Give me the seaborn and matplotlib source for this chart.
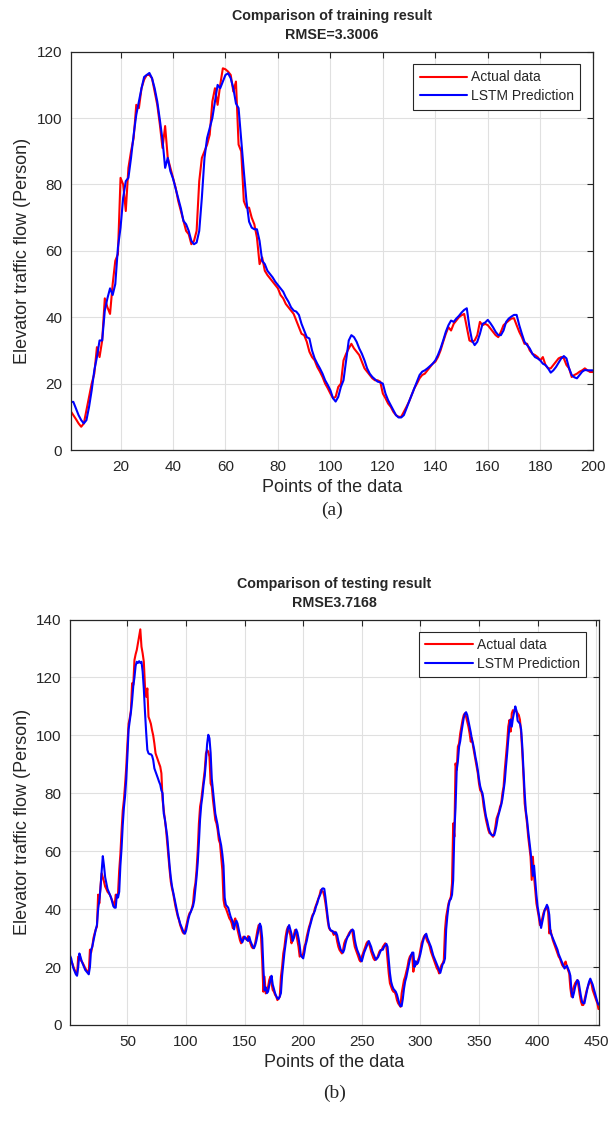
import numpy as np
import pandas as pd
import matplotlib
matplotlib.use("Agg")
import matplotlib.pyplot as plt
import seaborn as sns

# ---------------- data ----------------
train_actual = [
    11.7, 10.5, 9.3, 8, 7, 8, 12, 16, 20, 23,
    31, 28, 33, 45.7, 43, 41, 50, 57, 59, 82,
    80, 72, 85, 90, 94, 104, 103, 109, 111.6, 113,
    113, 112, 108, 104, 98, 91, 97.6, 88, 85, 82,
    79, 75, 72, 69, 66, 65, 62, 63, 66, 81,
    88, 90, 92, 95, 105, 109, 104, 110, 115, 114.7,
    114, 113, 108, 111, 92, 90, 75, 73, 73, 70,
    68, 64, 56, 58, 54, 52.7, 51.7, 50.7, 49.7, 48.7,
    46.7, 45.7, 44, 43, 42, 41, 39, 37, 35, 34.6,
    32.6, 29.6, 28, 27, 25, 23.6, 22, 20, 18.6, 17,
    15.6, 16, 19, 20, 27, 29, 30.6, 32, 30.6, 29.6,
    28.6, 26.6, 24.6, 23.6, 22.6, 21.6, 21, 21, 20.6, 17,
    15.6, 14, 13, 11.5, 10.5, 10, 10, 11.5, 13, 14.6,
    16.6, 18.6, 20, 21.6, 22.6, 23, 24, 25, 26, 26.6,
    28, 30, 32.6, 35, 37, 36, 38, 39, 40, 40.6,
    41, 37, 33, 32.6, 33, 34.6, 38.6, 37.6, 38, 37.6,
    36.6, 35.6, 34.6, 34, 35.6, 37.6, 38.3, 39, 39.6, 39.7,
    37.6, 35.6, 34, 32, 32, 30, 29, 28.6, 28, 27,
    28, 25.6, 24.6, 24.6, 25.6, 26.6, 27.6, 28, 27.6, 25.6,
    24.6, 22, 22.6, 23, 23.6, 24, 24.6, 24, 23.5, 23.5,
]
train_pred = [
    14.5, 14.5, 12.5, 10.5, 9, 8, 9, 13, 18, 24,
    28, 33, 33, 42, 45.7, 48.7, 46.7, 50, 61, 67,
    76, 81, 82, 88, 95, 101, 105, 109, 112.4, 113,
    113.6, 112, 109, 105, 99.4, 93.4, 85, 88, 84, 81.8,
    78.8, 75.8, 72.8, 69, 68, 66, 63, 62, 62.5, 66,
    76, 88, 94, 97, 100, 105, 110, 109, 111, 113,
    113.5, 112, 109, 104.4, 103, 93.4, 84, 75, 68.8, 67,
    66.5, 66.5, 63, 57, 56, 54, 53, 52, 50.7, 49.7,
    48.7, 47.7, 46, 44.7, 43, 42, 41.7, 40.7, 38, 36,
    34, 33.6, 30, 27.6, 26, 24.6, 23, 21, 19.6, 18,
    15.6, 14.6, 16, 19, 21, 27, 33, 34.6, 34, 32.6,
    30.6, 29, 27, 24.6, 23, 22, 21.3, 20.6, 20.4, 20,
    17, 15, 13.5, 12, 10.5, 9.8, 9.8, 10.5, 12.5, 14.6,
    16.6, 18.6, 20.6, 22.6, 23.6, 24, 24.6, 25.3, 26, 27,
    28.6, 30.6, 33, 35.6, 37.6, 39, 38.6, 39.6, 40.4, 41.4,
    42.2, 42.7, 37, 33, 31.6, 32.6, 35, 38, 38.4, 39.2,
    38.2, 37, 35.6, 34.6, 34.6, 36, 38.6, 39.6, 40.2, 40.7,
    40.7, 37.6, 35, 32.6, 31.6, 30.6, 29, 28, 27.6, 27,
    26, 25.6, 24.6, 23.3, 24, 25, 26.3, 27.6, 28.3, 27.6,
    24.6, 22.6, 21.9, 21.6, 22.6, 23.6, 24.1, 24, 24, 24,
]

test_actual = [
    23, 22, 21.3, 20, 19, 18, 17.3, 23.6, 23, 22.4,
    22, 21.3, 20.5, 19.6, 19, 18.4, 17.8, 26, 25, 27,
    30, 31.6, 33, 34, 45, 42, 47.8, 52.4, 51, 49.5,
    47.8, 47, 46, 45.5, 45, 44, 43, 42, 41, 45,
    44.3, 45.5, 53.5, 59, 67, 74, 77.7, 83, 89, 97,
    104, 106, 108.7, 118, 117.4, 126, 128, 129.5, 131.8, 134,
    136.6, 130.6, 128.3, 125.4, 116.8, 113.3, 116.2, 106.4, 105.3, 104,
    101.8, 100, 97.2, 93.8, 92.6, 91.5, 90.3, 89.2, 86.9, 77.7,
    74.2, 70.8, 67.3, 62.7, 58, 53.5, 49.5, 47.2, 45.5, 43.2,
    40.9, 39.1, 37.4, 36.2, 34.5, 33.4, 32.2, 31.6, 32.2, 33.9,
    35.7, 37.4, 38.6, 39.1, 40.3, 42, 46.6, 48.9, 53.5, 60.4,
    69.6, 75.4, 77.7, 81.1, 84.6, 88, 93.8, 94.9, 94.4, 92.6,
    83.4, 82.3, 77.7, 74.2, 70.8, 69.6, 67.3, 63.9, 62.7, 58.1,
    53.5, 43.2, 40.9, 40.3, 39.1, 38, 36.8, 36.2, 35.1, 33.4,
    35.7, 36.8, 35.1, 32.8, 31.1, 29.3, 28.2, 29.3, 30.5, 29.9,
    29.9, 29.3, 30.7, 29.3, 28.2, 27, 26.5, 27, 28.2, 30.5,
    32.8, 34.5, 33.9, 30.5, 22.4, 11.5, 16.7, 10.9, 12.1, 13.2,
    15.5, 16.7, 14.4, 12.1, 11.5, 10.4, 9.8, 8.6, 9.2, 9.8,
    16.7, 20.1, 24.7, 27, 30.5, 32.8, 33.9, 32.2, 31.1, 28.2,
    29.3, 31.1, 32.8, 31.6, 29.3, 27, 23.6, 24.2, 23.6, 24.7,
    27, 28.2, 30.5, 32.2, 33.9, 35.1, 36.8, 38, 38.6, 40.3,
    41.4, 42.6, 43.7, 44.9, 46.6, 46.2, 46, 44.5, 42, 39,
    35.7, 33.5, 32.8, 32.5, 32.2, 31.1, 32.2, 31.1, 28.8, 27,
    25.9, 25.3, 24.7, 25.9, 28.2, 29.3, 29.9, 30.7, 31.6, 32.2,
    32.8, 32.2, 29.3, 27, 25.9, 24.7, 23.6, 22.4, 21.9, 23.6,
    24.7, 25.9, 27, 28.2, 28.8, 28.2, 27, 25.3, 24.2, 23,
    22.4, 23, 23, 24.2, 25.3, 25.9, 25.9, 27, 27.6, 28.2,
    27, 22.4, 17.8, 14.4, 13.2, 12.1, 11.5, 11.5, 10.4, 8.6,
    7.5, 6.9, 6.3, 10.9, 13.2, 15.5, 16.7, 18.4, 20.1, 22.4,
    23.6, 24.2, 24.2, 18.4, 21.3, 20.7, 21.3, 22.4, 23.6, 25.9,
    28.2, 29.3, 30.5, 31.1, 29.9, 28.8, 28.2, 27, 25.3, 24.2,
    23, 21.9, 20.7, 19.6, 19, 17.8, 19.6, 20.7, 21.3, 22.4,
    32.8, 37.4, 39.7, 42, 43.2, 44.3, 48.9, 69.6, 65, 90.3,
    88, 96.1, 97.2, 100.7, 103, 105.3, 107, 107.6, 106.4, 104.7,
    103, 100.7, 97.8, 99, 96.1, 93.8, 91.5, 89.2, 86.9, 83.4,
    81.1, 80.6, 78.8, 75.4, 73.1, 70.8, 69, 67.3, 66.2, 66.2,
    65.6, 65, 66.2, 68.5, 71.3, 72.5, 73.6, 75.4, 76.5, 80,
    82.3, 88, 92.6, 97.2, 103, 105.3, 101.3, 107.6, 108.7, 108.2,
    108.7, 108.2, 107.6, 107, 105.3, 100.7, 93.8, 85.7, 76.5, 73.1,
    69.6, 65, 61.6, 58.1, 50.1, 58.1, 51.2, 46.6, 42, 39.7,
    37.4, 34.5, 35.1, 36.8, 38.6, 39.7, 40.3, 40.3, 39.1, 31.6,
    32.8, 31.1, 29.3, 28.2, 27, 25.9, 24.7, 23.6, 23, 21.9,
    20.7, 20.1, 21.3, 21.9, 20.1, 19, 17.8, 12.7, 9.8, 12.1,
    13.2, 14.4, 15, 15.5, 13.2, 10.4, 8.1, 6.9, 6.9, 8.6,
    10.4, 12.1, 13.2, 14.4, 15, 14.4, 12.1, 10.9, 9.8, 8.6,
    7.5, 5.5,
]
test_pred = [
    24, 23, 21, 19.5, 18.5, 17.5, 17, 20, 24.7, 23.5,
    22, 21, 20, 19, 18.5, 18, 17.5, 20, 26, 27,
    29, 31, 33, 34.5, 40, 43, 47, 53, 58.3, 55,
    51, 49, 47, 46, 45, 44, 42.5, 41, 40.5, 40.5,
    45, 44, 46, 55, 61, 69, 75, 79, 85, 93,
    102, 105, 108, 112, 117, 120, 124, 125.4, 125, 125.6,
    125, 125.4, 122, 116, 108, 101, 95, 93.8, 93.5, 93.5,
    93, 91.5, 88.6, 87.5, 86.3, 85.2, 84, 83, 81, 80,
    73, 71, 68, 65, 60, 55, 51, 48, 46, 44,
    42, 40, 38, 36.5, 35, 34, 33, 32, 31.5, 32.5,
    34.5, 36.5, 38, 39, 40, 41, 43, 47, 51, 56,
    63, 71, 76, 79, 83, 86, 91, 97, 100.2, 99,
    94, 85, 81, 77, 73, 71, 69, 66, 64, 62,
    59, 55, 44, 41.5, 41, 40.5, 39, 37.5, 36.5, 35.5,
    33, 35, 36, 35, 33, 31, 29.5, 28.5, 29.5, 30.5,
    30, 29.5, 29, 30.5, 29, 28, 27, 26.5, 27.5, 29,
    31, 33, 35, 34, 30, 20, 12, 13, 11, 11.5,
    13.5, 15.5, 17, 14, 12.5, 11, 10, 9.2, 9, 9.8,
    11, 17, 21, 25, 28, 31, 33.5, 34.5, 33, 31.5,
    29, 30, 31.5, 33, 32, 30, 27.5, 24, 23.5, 23,
    25, 27.5, 29, 31, 33, 34.5, 36, 37.5, 38.5, 39.5,
    41, 42, 43.5, 44.5, 45.5, 47, 47.2, 47, 44, 40.5,
    37, 34, 33, 32.5, 32.5, 32, 31.5, 32, 31, 29,
    27.5, 26, 25.5, 25, 26, 28, 29.5, 30.5, 31, 32,
    32.5, 33, 32.5, 29.5, 27.5, 26, 25, 24, 22.5, 22,
    23.5, 25, 26, 27, 28, 29, 28, 27, 25.5, 24.5,
    23.5, 22.5, 23, 23.5, 24.5, 25.5, 26, 26, 27, 27.5,
    28, 27, 22.5, 18, 15, 13.5, 12.5, 12, 11.5, 10.5,
    9, 7.5, 6.5, 6.5, 9, 12.5, 15, 16.5, 18.5, 20.5,
    22.5, 24, 25, 25, 20, 22, 21, 21.5, 23, 24.5,
    26.5, 28.5, 30, 31, 31.5, 30, 29, 28, 27, 25.5,
    24, 23, 22, 21, 20, 19, 18, 19.5, 21, 21.5,
    23, 33, 37.5, 41, 43, 43.5, 45, 50, 67, 75,
    88, 91, 96, 98, 101, 103.5, 106, 107.5, 108, 107,
    105, 103, 101, 98.5, 97, 95, 92.5, 90.5, 88, 85,
    82.5, 81, 80, 77.5, 74.5, 72, 70.5, 68.5, 67, 66,
    65.5, 65.5, 65.5, 67, 69, 71.5, 73, 74.5, 76, 78,
    81, 84, 89, 93.5, 98.5, 103, 105.5, 103, 106, 108,
    110, 108.5, 105, 104.5, 104, 102, 96, 88, 80, 74,
    71, 67, 63.5, 60, 56, 51.5, 55, 50, 45, 41,
    38.5, 36, 33.5, 35.5, 37.5, 39.5, 40.5, 41.5, 40.5, 38,
    32, 31, 30, 29, 28, 27, 26, 24.5, 23.5, 22.5,
    21.5, 20.5, 19.5, 20, 20.5, 19.5, 18.5, 17, 11.5, 9.5,
    11, 13, 14.5, 15.5, 15, 12.5, 10, 8, 7.5, 7.5,
    9.5, 11.5, 13.5, 15, 16, 15, 14, 12.5, 11, 9.5,
    8, 7,
]

series_names = ["Actual data", "LSTM Prediction"]
series_colors = ["#FF0000", "#0000FF"]
train_title = "Comparison of training result\nRMSE=3.3006"
test_title = "Comparison of testing result\nRMSE3.7168"
train_xticks = [20, 40, 60, 80, 100, 120, 140, 160, 180, 200]
train_yticks = [0, 20, 40, 60, 80, 100, 120]
test_xticks = [50, 100, 150, 200, 250, 300, 350, 400, 450]
test_yticks = [0, 20, 40, 60, 80, 100, 120, 140]
x_label = "Points of the data"
y_label = "Elevator traffic flow (Person)"

# ---------------- style ----------------
sns.set_style("white")
plt.rcParams["font.family"] = ["Liberation Sans", "DejaVu Sans"]
plt.rcParams["axes.unicode_minus"] = False

W, H = 611, 1123
fig = plt.figure(figsize=(W / 100, H / 100), dpi=100)

spine_col = "#262626"


def make_panel(rect, actual, pred, title, xticks, yticks, xlim, ylim, caption, cap_y):
    ax = fig.add_axes(rect)
    n = len(actual)
    df = pd.DataFrame({
        "x": np.concatenate([np.arange(1, n + 1), np.arange(1, len(pred) + 1)]),
        "y": np.concatenate([actual, pred]),
        "series": [series_names[0]] * n + [series_names[1]] * len(pred),
    })
    sns.lineplot(data=df, x="x", y="y", hue="series", palette=series_colors,
                 linewidth=1.5, ax=ax, estimator=None, sort=False)
    ax.set_xlim(*xlim)
    ax.set_ylim(*ylim)
    ax.set_xticks(xticks)
    ax.set_yticks(yticks)
    ax.grid(True, color="#e0e0e0", linewidth=0.8)
    ax.set_axisbelow(True)
    for s in ax.spines.values():
        s.set_visible(True)
        s.set_color(spine_col)
        s.set_linewidth(0.9)
    ax.tick_params(direction="in", length=4, width=0.8, colors=spine_col,
                   top=True, right=True, labelsize=11, labelcolor="#262626")
    ax.tick_params(axis="x", pad=7)
    ax.tick_params(axis="y", pad=6)
    ax.set_title(title, fontsize=10.3, fontweight="bold", pad=9, linespacing=1.45)
    ax.set_xlabel(x_label, fontsize=13, labelpad=4, color="#262626")
    ax.set_ylabel(y_label, fontsize=13, labelpad=4, color="#262626")
    leg = ax.legend(loc="upper right", fontsize=10, frameon=True, fancybox=False,
                    framealpha=1, edgecolor="#262626", handlelength=3.4,
                    borderaxespad=0.9, borderpad=0.45, labelspacing=0.35,
                    handletextpad=0.3)
    leg.get_frame().set_linewidth(0.8)
    for line in leg.get_lines():
        line.set_linewidth(1.5)
    fig.text(rect[0] + rect[2] / 2, cap_y, caption, ha="center", va="center",
             fontsize=14, family=["Liberation Serif", "DejaVu Serif"])
    return ax


make_panel([70.7 / W, 1 - 450 / H, 522 / W, 398.3 / H], train_actual, train_pred,
           train_title, train_xticks, train_yticks, (1, 200), (0, 120), "(a)", 1 - 510 / H)
make_panel([70 / W, 1 - 1025 / H, 528.5 / W, 405.5 / H], test_actual, test_pred,
           test_title, test_xticks, test_yticks, (1, 452), (0, 140), "(b)", 1 - 1093 / H)

fig.savefig("out.png", dpi=100)
